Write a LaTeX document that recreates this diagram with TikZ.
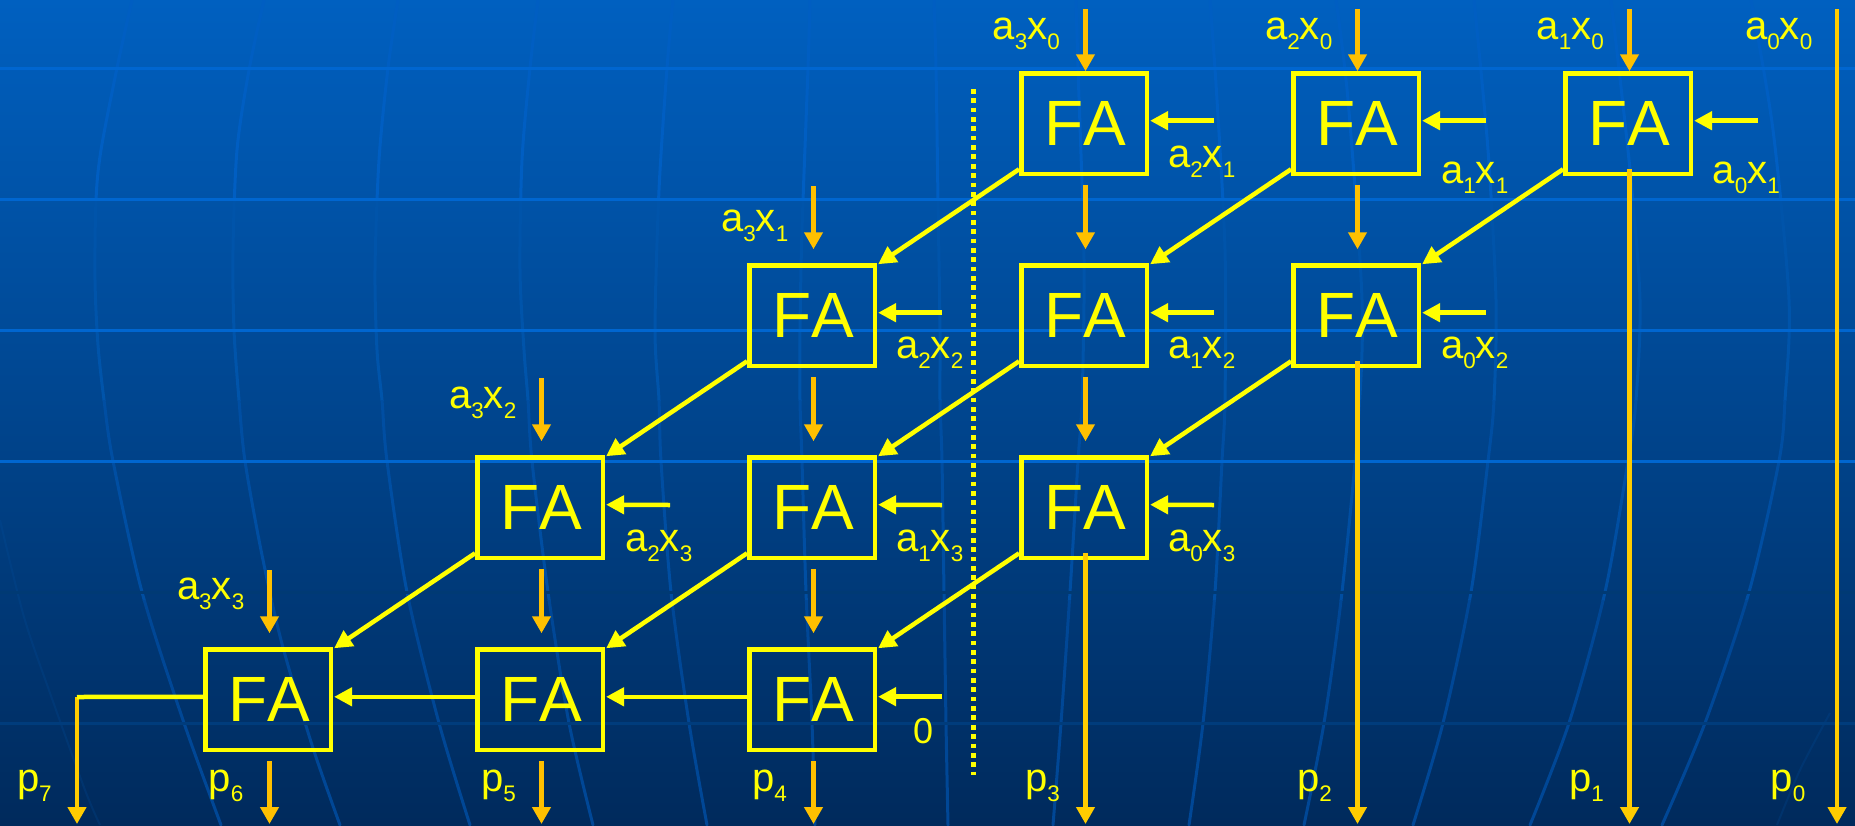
\documentclass[tikz,border=0pt]{standalone}
\usepackage{fontspec}
\setmainfont{Liberation Sans}
\usetikzlibrary{arrows.meta}
\definecolor{bgtop}{HTML}{0060C0}
\definecolor{bgbot}{HTML}{002A5C}
\definecolor{yel}{HTML}{FFFF00}
\definecolor{org}{HTML}{FFC000}
\definecolor{orgl}{HTML}{FFCC00}
\definecolor{gridhi}{HTML}{0066D0}
\definecolor{gridfa}{HTML}{003A74}
\definecolor{gridlo}{HTML}{003C7C}
\definecolor{faintc}{HTML}{0050A0}
\newcommand\sbs[1]{\raisebox{-10pt}{\fontsize{22.5}{22.5}\selectfont #1}}
\newcommand\axpair[2]{a\sbs{#1}x\sbs{#2}}
\newcommand\pout[1]{p\sbs{#1}}
\newcommand\globecurves{
  plot[smooth] coordinates {(132,0)(117,68)(101,150)(96,200)(95,280)(98,345)(104,400)(113,461)(142,592)(184,723)(221,825)}
  plot[smooth] coordinates {(264,0)(249,70)(237,150)(233,250)(234,330)(239,400)(245,461)(261,550)(281,640)(312,745)(340,825)}
  plot[smooth] coordinates {(398,0)(388,68)(379,160)(375,270)(377,350)(382,400)(387,461)(407,592)(439,723)(470,825)}
  plot[smooth] coordinates {(538,0)(530,68)(522,160)(520,270)(524,350)(528,400)(532,461)(548,592)(569,723)(593,825)}
  plot[smooth] coordinates {(673,0)(667,68)(659,190)(655,330)(659,400)(661,461)(671,592)(689,723)(707,825)}
  plot[smooth] coordinates {(810,0)(808,68)(802,230)(800,330)(800,400)(802,461)(806,592)(812,723)(815,825)}
  plot[smooth] coordinates {(934,0)(936,68)(938,200)(940,330)(940,400)(942,461)(944,592)(946,723)(948,825)}
  plot[smooth] coordinates {(1076,0)(1078,68)(1084,260)(1082,400)(1078,461)(1070,592)(1061,723)(1053,825)}
  plot[smooth] coordinates {(1210,0)(1217,100)(1225,250)(1225,400)(1222,461)(1215,592)(1203,723)(1189,825)}
  plot[smooth] coordinates {(1336,0)(1348,100)(1362,300)(1358,425)(1342,592)(1324,723)(1304,825)}
  plot[smooth] coordinates {(1474,0)(1488,150)(1496,300)(1494,400)(1488,461)(1471,592)(1443,723)(1413,825)}
  plot[smooth] coordinates {(1611,0)(1630,170)(1640,300)(1636,400)(1628,461)(1605,592)(1569,723)(1530,825)}
  plot[smooth] coordinates {(1751,0)(1773,130)(1789,300)(1785,400)(1779,461)(1749,592)(1705,723)(1662,825)}
}
\tikzset{
  x=1pt,y=-1pt,
  fabox/.style={draw=yel,line width=4.5pt,minimum width=125.5pt,minimum height=100.5pt,inner sep=0pt,outer sep=0pt,text=yel,font=\fontsize{64}{64}\selectfont},
  lbl/.style={anchor=base west,inner sep=0pt,outer sep=0pt,text=yel,font=\fontsize{40}{40}\selectfont},
  yarrow/.style={draw=yel,line width=4.5pt,-{Triangle[length=18pt,width=18pt]}},
  oarrow/.style={draw=org,line width=4.7pt,-{Triangle[length=17pt,width=18pt]}},
  olong/.style={draw=orgl,line width=4.7pt,-{Triangle[length=17pt,width=18pt]}},
  gridline/.style={line width=3pt},
  curveline/.style={line width=3pt,line cap=round}
}
\begin{document}
\begin{tikzpicture}
\useasboundingbox (0,0) rectangle (1855,825);
\shade[top color=bgtop,bottom color=bgbot] (0,0) rectangle (1855,825);
% background globe lines
\foreach \ya/\yb/\cc in {0/200/005EC2,200/400/0054AA,400/600/004EA2,600/825/004796}{
  \definecolor{curvecol}{HTML}{\cc}
  \begin{scope}
    \clip (0,\ya) rectangle (1855,\yb);
    \draw[curveline,draw=curvecol] \globecurves;
  \end{scope}
}
\draw[line width=2pt,draw=faintc,opacity=0.22] plot[smooth] coordinates {(0,520)(24,617)(50,693)(85,790)(100,825)};
\draw[line width=2pt,draw=faintc,opacity=0.22] plot[smooth] coordinates {(1830,713)(1800,770)(1777,825)};
\foreach \yy in {68,199,330,461}{
  \draw[gridline,draw=gridhi] (0,\yy) -- (1855,\yy);
}
\draw[gridline,draw=gridfa] (0,592) -- (1855,592);
\draw[gridline,draw=gridlo] (0,723) -- (1855,723);
% boxes: fa-column-row
\foreach \cn/\rn/\xx/\yy in {
  3/1/1084/123.5,4/1/1356/123.5,5/1/1628/123.5,
  2/2/812/315.5,3/2/1084/315.5,4/2/1356/315.5,
  1/3/540/507.5,2/3/812/507.5,3/3/1084/507.5,
  0/4/268/699.5,1/4/540/699.5,2/4/812/699.5}{
  \node[fabox] (fa-\cn-\rn) at (\xx,\yy) {\hspace*{2pt}F\kern0ptA};
}
% free ends
\foreach \nm/\xx/\yy in {
  t3/1085.5/9,t4/1357.5/9,t5/1629.5/9,t6/1837/9,
  r31/1214/120.7,r41/1486/120.7,r51/1758/120.7,
  r22/942/312.7,r32/1214/312.7,r42/1486/312.7,
  r13/670/505,r23/942/505,r33/1214/505,
  r24/942/696.7,
  o0/269.5/824,o1/541.5/824,o2/813.5/824,o3/1085.5/824,o4/1357.5/824,o5/1629.5/824,o6/1837/824,o7/77/824,
  s0/269.5/761,s1/541.5/761,s2/813.5/761,
  c7/77/697,
  dota/973.5/89,dotb/973.5/775}{
  \coordinate (\nm) at (\xx,\yy);
}
% diagonals
\foreach \ca/\ra/\cb/\rb in {3/1/2/2,4/1/3/2,5/1/4/2,2/2/1/3,3/2/2/3,4/2/3/3,1/3/0/4,2/3/1/4,3/3/2/4}{
  \draw[yarrow] ([shift={(-2.2,-4.5)}]fa-\ca-\ra.south west) -- ([shift={(3.3,-1)}]fa-\cb-\rb.north east);
}
% horizontal carries
\foreach \ca/\cb in {2/1,1/0}{
  \draw[yarrow] ([yshift=2.7pt]fa-\ca-4.west) -- ([shift={(3.3,-2.7)}]fa-\cb-4.east);
}
% right inputs
\foreach \cn/\rn/\fr in {3/1/r31,4/1/r41,5/1/r51,2/2/r22,3/2/r32,4/2/r42,1/3/r13,2/3/r23,3/3/r33,2/4/r24}{
  \draw[yarrow] (\fr) -- ([shift={(3.3,-2.8)}]fa-\cn-\rn.east);
}
% top inputs row 1
\foreach \cn/\fr in {3/t3,4/t4,5/t5}{
  \draw[oarrow] (\fr) -- ([shift={(1.5,-2)}]fa-\cn-1.north);
}
% vertical inputs
\foreach \cn/\rn in {2/2,1/3,0/4}{
  \draw[oarrow] ([shift={(1.5,-79)}]fa-\cn-\rn.north) -- ([shift={(1.5,-16)}]fa-\cn-\rn.north);
}
% vertical sums between boxes
\foreach \cn/\ra/\rb in {3/1/2,4/1/2,2/2/3,3/2/3,1/3/4,2/3/4}{
  \draw[oarrow] ([shift={(1.5,11)}]fa-\cn-\ra.south) -- ([shift={(1.5,-16)}]fa-\cn-\rb.north);
}
% outputs
\foreach \fr/\ft in {s0/o0,s1/o1,s2/o2}{
  \draw[oarrow] (\fr) -- (\ft);
}
\draw[olong] ([shift={(1.5,-5)}]fa-5-1.south) -- (o5);
\draw[olong] ([shift={(1.5,-5)}]fa-4-2.south) -- (o4);
\draw[olong] ([shift={(1.5,-5)}]fa-3-3.south) -- (o3);
\draw[olong] (t6) -- (o6);
\draw[olong] (c7) -- (o7);
\draw[draw=yel,line width=4.5pt] ([yshift=2.7pt]fa-0-4.west) -- (c7);
% dotted divider
\draw[draw=yel,line width=4.7pt,dash pattern=on 4.7pt off 4.65pt] (dota) -- (dotb);
% labels
\foreach \nm/\xx/\yy/\ia/\ib in {
  l30/992.5/39/3/0,l20/1265/39/2/0,l10/1536.5/39/1/0,l00/1745/39/0/0,
  l21/1168/167/2/1,l11/1441/183/1/1,l01/1712.5/183/0/1,
  l31/721/231/3/1,l22/896/358/2/2,l12/1168/358/1/2,l02/1441/358/0/2,
  l32/449/408/3/2,l23/625/551/2/3,l13/896/551/1/3,l03/1168/551/0/3,
  l33/177/599/3/3}{
  \node[lbl] (\nm) at (\xx,\yy) {\axpair{\ia}{\ib}};
}
\node[lbl,font=\fontsize{36}{36}\selectfont] (zero) at (913,743) {0};
\foreach \nm/\xx in {7/17,6/208.6,5/481,4/752,3/1025,2/1297,1/1569,0/1770.6}{
  \node[lbl] (p\nm) at (\xx,791) {\pout{\nm}};
}
\end{tikzpicture}
\end{document}
